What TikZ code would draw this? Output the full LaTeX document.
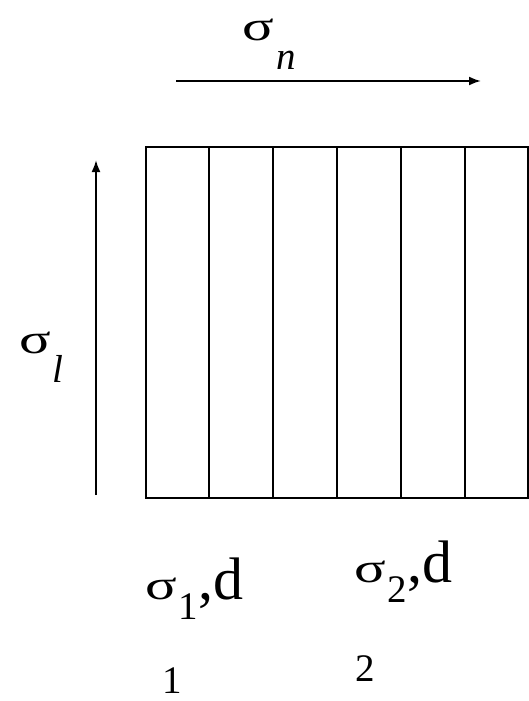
\documentclass[tikz,border=0pt]{standalone}
\usepackage{fontspec}
\setmainfont{Liberation Serif}
\usetikzlibrary{arrows.meta}
\newcommand\bigsz{\fontsize{60}{60}\selectfont}
\newcommand\subsz{\fontsize{39}{39}\selectfont}
\newcommand\mysig{\scalebox{1.4}[1]{\fontsize{42}{42}\selectfont σ}}
\tikzset{
  frame/.style={draw=black, line width=2pt},
  axis/.style={draw=black, line width=2pt, -{Latex[length=12pt,width=9pt]}},
  lbl/.style={inner sep=0pt, anchor=base west, font=\bigsz},
  sublbl/.style={inner sep=0pt, anchor=base west, font=\subsz},
}
\begin{document}
\begin{tikzpicture}[x=1pt,y=-1pt]
\useasboundingbox (0,0) rectangle (528,701);
% cells
\node[frame, minimum width=382pt, minimum height=351pt, inner sep=0pt, anchor=north west] (box) at (145,146) {};
\foreach \i in {1,...,5} {
  \draw[frame] (145+\i*64,146) -- (145+\i*64,497);
}
% arrows
\coordinate (hs) at (176,81);
\coordinate (he) at (481,81);
\draw[axis] (hs) -- (he);
\coordinate (vs) at (96,495);
\coordinate (ve) at (96,160);
\draw[axis] (vs) -- (ve);
% labels
\node[lbl] (sn) at (242,41) {\mysig\hspace{3pt}\raisebox{-29pt}{\subsz\itshape n}};
\node[lbl] (sl) at (19,353) {\mysig\hspace{2pt}\raisebox{-29pt}{\subsz\itshape l}};
\node[lbl] (s1) at (145,599) {\mysig\hspace{2pt}\raisebox{-20pt}{\subsz 1},d};
\node[lbl] (s2) at (354,582) {\mysig\hspace{2pt}\raisebox{-20pt}{\subsz 2},d};
\node[sublbl] (d1) at (162,693) {1};
\node[sublbl] (d2) at (355,681) {2};
\end{tikzpicture}
\end{document}
